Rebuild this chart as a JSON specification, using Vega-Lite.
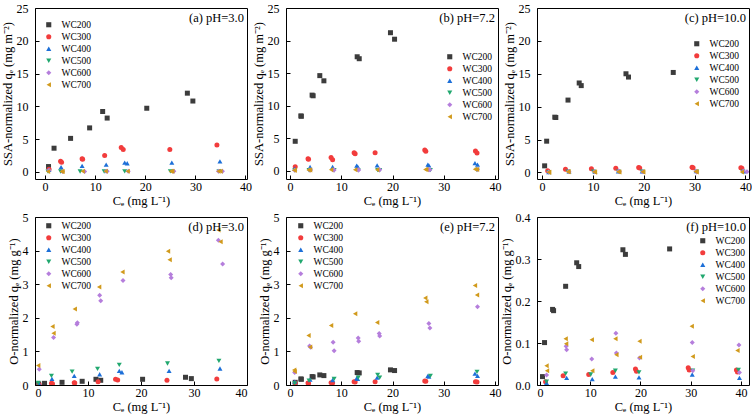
{
"$schema": "https://vega.github.io/schema/vega-lite/v6.json",
"padding": {"left": 0, "top": 1, "right": 0, "bottom": 2},
"background": "white",
"config": {
 "font": "Liberation Serif",
 "view": {"stroke": "black", "strokeWidth": 1},
 "axis": {"grid": false, "domain": false, "tickSize": -4, "tickColor": "black", "labelFont": "Liberation Serif", "labelFontSize": 12, "labelColor": "black", "titleFont": "Liberation Serif", "titleFontSize": 12.5, "titleFontWeight": "normal", "titleColor": "black"},
 "axisX": {"labelPadding": 6, "titlePadding": 2},
 "axisY": {"labelPadding": 11, "titlePadding": 2},
 "legend": {"title": null, "labelFont": "Liberation Serif", "labelFontSize": 9.5, "labelColor": "black", "labelOffset": 8, "rowPadding": 1, "padding": 0, "symbolSize": 26, "symbolStrokeWidth": 0},
 "title": {"font": "Liberation Serif", "fontSize": 12.5, "fontWeight": "normal", "anchor": "end", "frame": "group", "offset": -22, "dx": -3, "color": "black"},
 "point": {"filled": true, "size": 25, "opacity": 1}
},
"datasets": {
 "a": [
  {"sample":"WC200","Ce":0.7,"qe":0.8},{"sample":"WC200","Ce":1.8,"qe":3.6},{"sample":"WC200","Ce":5.1,"qe":5.1},{"sample":"WC200","Ce":8.9,"qe":6.7},{"sample":"WC200","Ce":11.5,"qe":9.2},{"sample":"WC200","Ce":12.4,"qe":8.2},{"sample":"WC200","Ce":20.3,"qe":9.7},{"sample":"WC200","Ce":28.4,"qe":12.0},{"sample":"WC200","Ce":29.5,"qe":10.8},
  {"sample":"WC300","Ce":0.8,"qe":0.4},{"sample":"WC300","Ce":3.1,"qe":1.6},{"sample":"WC300","Ce":3.3,"qe":1.45},{"sample":"WC300","Ce":7.4,"qe":2.0},{"sample":"WC300","Ce":7.5,"qe":1.9},{"sample":"WC300","Ce":11.9,"qe":2.5},{"sample":"WC300","Ce":15.2,"qe":3.7},{"sample":"WC300","Ce":15.6,"qe":3.4},{"sample":"WC300","Ce":24.9,"qe":3.4},{"sample":"WC300","Ce":34.3,"qe":4.1},
  {"sample":"WC400","Ce":0.8,"qe":0.3},{"sample":"WC400","Ce":3.2,"qe":0.7},{"sample":"WC400","Ce":7.4,"qe":0.9},{"sample":"WC400","Ce":12.2,"qe":1.1},{"sample":"WC400","Ce":15.9,"qe":1.4},{"sample":"WC400","Ce":16.4,"qe":1.3},{"sample":"WC400","Ce":25.3,"qe":1.4},{"sample":"WC400","Ce":34.9,"qe":1.6},
  {"sample":"WC500","Ce":0.6,"qe":0.03},{"sample":"WC500","Ce":3.1,"qe":0.05},{"sample":"WC500","Ce":7.0,"qe":0.05},{"sample":"WC500","Ce":11.8,"qe":0.05},{"sample":"WC500","Ce":15.9,"qe":0.06},{"sample":"WC500","Ce":25.0,"qe":0.06},{"sample":"WC500","Ce":34.7,"qe":0.07},
  {"sample":"WC600","Ce":0.8,"qe":0.25},{"sample":"WC600","Ce":3.5,"qe":0.05},{"sample":"WC600","Ce":7.9,"qe":0.06},{"sample":"WC600","Ce":12.2,"qe":0.08},{"sample":"WC600","Ce":12.4,"qe":0.07},{"sample":"WC600","Ce":16.6,"qe":0.09},{"sample":"WC600","Ce":25.6,"qe":0.09},{"sample":"WC600","Ce":25.7,"qe":0.08},{"sample":"WC600","Ce":34.6,"qe":0.1},{"sample":"WC600","Ce":35.4,"qe":0.09},
  {"sample":"WC700","Ce":0.6,"qe":0.05},{"sample":"WC700","Ce":3.3,"qe":0.06},{"sample":"WC700","Ce":3.5,"qe":0.05},{"sample":"WC700","Ce":7.5,"qe":0.07},{"sample":"WC700","Ce":12.1,"qe":0.08},{"sample":"WC700","Ce":16.5,"qe":0.08},{"sample":"WC700","Ce":25.1,"qe":0.09},{"sample":"WC700","Ce":25.4,"qe":0.09},{"sample":"WC700","Ce":34.6,"qe":0.1},{"sample":"WC700","Ce":35.0,"qe":0.1}
 ],
 "b": [
  {"sample":"WC200","Ce":1.0,"qe":4.5},{"sample":"WC200","Ce":2.1,"qe":8.4},{"sample":"WC200","Ce":2.2,"qe":8.35},{"sample":"WC200","Ce":4.3,"qe":11.6},{"sample":"WC200","Ce":4.5,"qe":11.5},{"sample":"WC200","Ce":5.8,"qe":14.6},{"sample":"WC200","Ce":6.6,"qe":13.8},{"sample":"WC200","Ce":13.1,"qe":17.5},{"sample":"WC200","Ce":13.5,"qe":17.2},{"sample":"WC200","Ce":19.6,"qe":21.2},{"sample":"WC200","Ce":20.4,"qe":20.2},
  {"sample":"WC300","Ce":1.0,"qe":0.6},{"sample":"WC300","Ce":3.5,"qe":1.8},{"sample":"WC300","Ce":3.6,"qe":1.75},{"sample":"WC300","Ce":8.0,"qe":2.0},{"sample":"WC300","Ce":8.3,"qe":1.65},{"sample":"WC300","Ce":12.5,"qe":2.75},{"sample":"WC300","Ce":12.7,"qe":2.6},{"sample":"WC300","Ce":16.6,"qe":2.75},{"sample":"WC300","Ce":26.3,"qe":3.15},{"sample":"WC300","Ce":26.5,"qe":2.95},{"sample":"WC300","Ce":36.2,"qe":3.0},{"sample":"WC300","Ce":36.5,"qe":2.7},
  {"sample":"WC400","Ce":0.9,"qe":0.3},{"sample":"WC400","Ce":3.9,"qe":0.55},{"sample":"WC400","Ce":8.3,"qe":0.55},{"sample":"WC400","Ce":13.0,"qe":0.75},{"sample":"WC400","Ce":13.2,"qe":0.6},{"sample":"WC400","Ce":17.0,"qe":0.8},{"sample":"WC400","Ce":26.9,"qe":0.9},{"sample":"WC400","Ce":27.1,"qe":0.8},{"sample":"WC400","Ce":36.1,"qe":1.15},{"sample":"WC400","Ce":36.6,"qe":0.9},
  {"sample":"WC500","Ce":0.9,"qe":0.02},{"sample":"WC500","Ce":3.7,"qe":0.04},{"sample":"WC500","Ce":8.6,"qe":0.05},{"sample":"WC500","Ce":13.3,"qe":0.05},{"sample":"WC500","Ce":17.1,"qe":0.07},{"sample":"WC500","Ce":17.5,"qe":0.05},{"sample":"WC500","Ce":27.4,"qe":0.06},{"sample":"WC500","Ce":36.5,"qe":0.08},
  {"sample":"WC600","Ce":0.9,"qe":0.06},{"sample":"WC600","Ce":3.8,"qe":0.1},{"sample":"WC600","Ce":4.0,"qe":0.09},{"sample":"WC600","Ce":8.4,"qe":0.1},{"sample":"WC600","Ce":8.6,"qe":0.08},{"sample":"WC600","Ce":13.3,"qe":0.11},{"sample":"WC600","Ce":13.4,"qe":0.1},{"sample":"WC600","Ce":17.4,"qe":0.12},{"sample":"WC600","Ce":17.5,"qe":0.11},{"sample":"WC600","Ce":27.1,"qe":0.14},{"sample":"WC600","Ce":27.3,"qe":0.13},{"sample":"WC600","Ce":36.6,"qe":0.18},
  {"sample":"WC700","Ce":0.8,"qe":0.05},{"sample":"WC700","Ce":0.9,"qe":0.04},{"sample":"WC700","Ce":3.6,"qe":0.1},{"sample":"WC700","Ce":3.9,"qe":0.08},{"sample":"WC700","Ce":8.0,"qe":0.12},{"sample":"WC700","Ce":12.7,"qe":0.14},{"sample":"WC700","Ce":17.0,"qe":0.12},{"sample":"WC700","Ce":26.4,"qe":0.17},{"sample":"WC700","Ce":26.6,"qe":0.16},{"sample":"WC700","Ce":36.1,"qe":0.19},{"sample":"WC700","Ce":36.5,"qe":0.17}
 ],
 "c": [
  {"sample":"WC200","Ce":0.5,"qe":1.0},{"sample":"WC200","Ce":0.9,"qe":4.75},{"sample":"WC200","Ce":2.5,"qe":8.4},{"sample":"WC200","Ce":2.7,"qe":8.35},{"sample":"WC200","Ce":5.1,"qe":11.0},{"sample":"WC200","Ce":7.3,"qe":13.6},{"sample":"WC200","Ce":7.7,"qe":13.2},{"sample":"WC200","Ce":16.5,"qe":15.0},{"sample":"WC200","Ce":17.0,"qe":14.5},{"sample":"WC200","Ce":25.8,"qe":15.2},
  {"sample":"WC300","Ce":1.1,"qe":0.25},{"sample":"WC300","Ce":4.6,"qe":0.5},{"sample":"WC300","Ce":9.7,"qe":0.55},{"sample":"WC300","Ce":14.5,"qe":0.65},{"sample":"WC300","Ce":19.0,"qe":0.75},{"sample":"WC300","Ce":19.2,"qe":0.68},{"sample":"WC300","Ce":29.5,"qe":0.8},{"sample":"WC300","Ce":29.7,"qe":0.7},{"sample":"WC300","Ce":39.1,"qe":0.72},{"sample":"WC300","Ce":39.3,"qe":0.65},
  {"sample":"WC400","Ce":1.3,"qe":0.05},{"sample":"WC400","Ce":5.3,"qe":0.15},{"sample":"WC400","Ce":10.4,"qe":0.12},{"sample":"WC400","Ce":15.0,"qe":0.18},{"sample":"WC400","Ce":19.7,"qe":0.15},{"sample":"WC400","Ce":30.3,"qe":0.2},{"sample":"WC400","Ce":39.7,"qe":0.15},
  {"sample":"WC500","Ce":1.3,"qe":0.03},{"sample":"WC500","Ce":5.1,"qe":0.1},{"sample":"WC500","Ce":10.1,"qe":0.1},{"sample":"WC500","Ce":15.0,"qe":0.12},{"sample":"WC500","Ce":19.7,"qe":0.1},{"sample":"WC500","Ce":30.4,"qe":0.12},{"sample":"WC500","Ce":39.5,"qe":0.12},
  {"sample":"WC600","Ce":1.3,"qe":0.05},{"sample":"WC600","Ce":5.2,"qe":0.15},{"sample":"WC600","Ce":5.3,"qe":0.12},{"sample":"WC600","Ce":10.3,"qe":0.1},{"sample":"WC600","Ce":15.1,"qe":0.2},{"sample":"WC600","Ce":15.2,"qe":0.12},{"sample":"WC600","Ce":19.8,"qe":0.1},{"sample":"WC600","Ce":30.3,"qe":0.18},{"sample":"WC600","Ce":30.4,"qe":0.06},{"sample":"WC600","Ce":39.6,"qe":0.2},{"sample":"WC600","Ce":40.3,"qe":0.1},
  {"sample":"WC700","Ce":1.3,"qe":0.04},{"sample":"WC700","Ce":1.4,"qe":0.03},{"sample":"WC700","Ce":5.1,"qe":0.1},{"sample":"WC700","Ce":5.2,"qe":0.09},{"sample":"WC700","Ce":10.3,"qe":0.1},{"sample":"WC700","Ce":10.4,"qe":0.03},{"sample":"WC700","Ce":15.0,"qe":0.1},{"sample":"WC700","Ce":15.2,"qe":0.07},{"sample":"WC700","Ce":19.8,"qe":0.1},{"sample":"WC700","Ce":19.9,"qe":0.06},{"sample":"WC700","Ce":30.2,"qe":0.13},{"sample":"WC700","Ce":30.4,"qe":0.06},{"sample":"WC700","Ce":39.3,"qe":0.08}
 ],
 "d": [
  {"sample":"WC200","Ce":0.7,"qe":0.03},{"sample":"WC200","Ce":1.8,"qe":0.05},{"sample":"WC200","Ce":5.1,"qe":0.08},{"sample":"WC200","Ce":8.9,"qe":0.11},{"sample":"WC200","Ce":11.5,"qe":0.17},{"sample":"WC200","Ce":12.4,"qe":0.14},{"sample":"WC200","Ce":20.3,"qe":0.17},{"sample":"WC200","Ce":28.4,"qe":0.23},{"sample":"WC200","Ce":29.5,"qe":0.19},
  {"sample":"WC300","Ce":0.8,"qe":0.01},{"sample":"WC300","Ce":3.1,"qe":0.05},{"sample":"WC300","Ce":3.3,"qe":0.04},{"sample":"WC300","Ce":7.4,"qe":0.07},{"sample":"WC300","Ce":7.5,"qe":0.06},{"sample":"WC300","Ce":11.9,"qe":0.1},{"sample":"WC300","Ce":15.2,"qe":0.17},{"sample":"WC300","Ce":15.6,"qe":0.15},{"sample":"WC300","Ce":24.9,"qe":0.14},{"sample":"WC300","Ce":34.3,"qe":0.18},
  {"sample":"WC400","Ce":0.8,"qe":0.03},{"sample":"WC400","Ce":3.2,"qe":0.18},{"sample":"WC400","Ce":7.4,"qe":0.27},{"sample":"WC400","Ce":12.2,"qe":0.32},{"sample":"WC400","Ce":15.9,"qe":0.42},{"sample":"WC400","Ce":16.4,"qe":0.38},{"sample":"WC400","Ce":25.3,"qe":0.42},{"sample":"WC400","Ce":34.9,"qe":0.49},
  {"sample":"WC500","Ce":0.6,"qe":0.06},{"sample":"WC500","Ce":3.1,"qe":0.27},{"sample":"WC500","Ce":7.0,"qe":0.4},{"sample":"WC500","Ce":11.8,"qe":0.48},{"sample":"WC500","Ce":15.9,"qe":0.6},{"sample":"WC500","Ce":25.0,"qe":0.64},{"sample":"WC500","Ce":34.7,"qe":0.72},
  {"sample":"WC600","Ce":0.8,"qe":0.47},{"sample":"WC600","Ce":3.5,"qe":1.41},{"sample":"WC600","Ce":7.9,"qe":1.81},{"sample":"WC600","Ce":8.0,"qe":1.85},{"sample":"WC600","Ce":12.2,"qe":2.67},{"sample":"WC600","Ce":12.4,"qe":2.51},{"sample":"WC600","Ce":16.6,"qe":3.11},{"sample":"WC600","Ce":25.6,"qe":3.29},{"sample":"WC600","Ce":25.7,"qe":3.19},{"sample":"WC600","Ce":34.6,"qe":4.31},{"sample":"WC600","Ce":35.4,"qe":3.6},
  {"sample":"WC700","Ce":0.6,"qe":0.58},{"sample":"WC700","Ce":3.3,"qe":1.74},{"sample":"WC700","Ce":3.5,"qe":1.54},{"sample":"WC700","Ce":7.5,"qe":2.26},{"sample":"WC700","Ce":12.1,"qe":2.92},{"sample":"WC700","Ce":16.5,"qe":3.36},{"sample":"WC700","Ce":25.1,"qe":3.98},{"sample":"WC700","Ce":25.4,"qe":3.73},{"sample":"WC700","Ce":34.6,"qe":4.61},{"sample":"WC700","Ce":35.0,"qe":4.26}
 ],
 "e": [
  {"sample":"WC200","Ce":1.0,"qe":0.08},{"sample":"WC200","Ce":2.1,"qe":0.18},{"sample":"WC200","Ce":2.2,"qe":0.17},{"sample":"WC200","Ce":4.3,"qe":0.25},{"sample":"WC200","Ce":4.5,"qe":0.24},{"sample":"WC200","Ce":5.8,"qe":0.3},{"sample":"WC200","Ce":6.6,"qe":0.28},{"sample":"WC200","Ce":13.1,"qe":0.37},{"sample":"WC200","Ce":13.5,"qe":0.36},{"sample":"WC200","Ce":19.6,"qe":0.45},{"sample":"WC200","Ce":20.4,"qe":0.43},
  {"sample":"WC300","Ce":1.0,"qe":0.06},{"sample":"WC300","Ce":3.5,"qe":0.06},{"sample":"WC300","Ce":3.6,"qe":0.05},{"sample":"WC300","Ce":8.0,"qe":0.07},{"sample":"WC300","Ce":8.3,"qe":0.06},{"sample":"WC300","Ce":12.5,"qe":0.1},{"sample":"WC300","Ce":12.7,"qe":0.09},{"sample":"WC300","Ce":16.6,"qe":0.1},{"sample":"WC300","Ce":26.3,"qe":0.12},{"sample":"WC300","Ce":26.5,"qe":0.11},{"sample":"WC300","Ce":36.2,"qe":0.1},{"sample":"WC300","Ce":36.5,"qe":0.09},
  {"sample":"WC400","Ce":0.9,"qe":0.1},{"sample":"WC400","Ce":3.9,"qe":0.16},{"sample":"WC400","Ce":8.3,"qe":0.15},{"sample":"WC400","Ce":13.0,"qe":0.2},{"sample":"WC400","Ce":13.2,"qe":0.18},{"sample":"WC400","Ce":17.0,"qe":0.22},{"sample":"WC400","Ce":26.9,"qe":0.27},{"sample":"WC400","Ce":27.1,"qe":0.25},{"sample":"WC400","Ce":36.1,"qe":0.34},{"sample":"WC400","Ce":36.6,"qe":0.27},
  {"sample":"WC500","Ce":0.9,"qe":0.05},{"sample":"WC500","Ce":3.7,"qe":0.13},{"sample":"WC500","Ce":8.6,"qe":0.18},{"sample":"WC500","Ce":13.3,"qe":0.22},{"sample":"WC500","Ce":17.1,"qe":0.3},{"sample":"WC500","Ce":17.5,"qe":0.22},{"sample":"WC500","Ce":27.4,"qe":0.27},{"sample":"WC500","Ce":36.5,"qe":0.39},
  {"sample":"WC600","Ce":0.9,"qe":0.37},{"sample":"WC600","Ce":3.8,"qe":1.16},{"sample":"WC600","Ce":4.0,"qe":1.12},{"sample":"WC600","Ce":8.4,"qe":1.27},{"sample":"WC600","Ce":8.6,"qe":1.02},{"sample":"WC600","Ce":13.3,"qe":1.4},{"sample":"WC600","Ce":13.4,"qe":1.3},{"sample":"WC600","Ce":17.4,"qe":1.53},{"sample":"WC600","Ce":17.5,"qe":1.46},{"sample":"WC600","Ce":27.1,"qe":1.83},{"sample":"WC600","Ce":27.3,"qe":1.7},{"sample":"WC600","Ce":36.6,"qe":2.33},
  {"sample":"WC700","Ce":0.8,"qe":0.45},{"sample":"WC700","Ce":0.9,"qe":0.4},{"sample":"WC700","Ce":3.6,"qe":1.47},{"sample":"WC700","Ce":3.9,"qe":1.13},{"sample":"WC700","Ce":8.0,"qe":1.77},{"sample":"WC700","Ce":12.7,"qe":2.12},{"sample":"WC700","Ce":17.0,"qe":1.86},{"sample":"WC700","Ce":26.4,"qe":2.59},{"sample":"WC700","Ce":26.6,"qe":2.48},{"sample":"WC700","Ce":36.1,"qe":2.96},{"sample":"WC700","Ce":36.5,"qe":2.68}
 ],
 "f": [
  {"sample":"WC200","Ce":0.5,"qe":0.02},{"sample":"WC200","Ce":0.9,"qe":0.101},{"sample":"WC200","Ce":2.5,"qe":0.18},{"sample":"WC200","Ce":2.7,"qe":0.177},{"sample":"WC200","Ce":5.1,"qe":0.235},{"sample":"WC200","Ce":7.3,"qe":0.291},{"sample":"WC200","Ce":7.7,"qe":0.282},{"sample":"WC200","Ce":16.5,"qe":0.322},{"sample":"WC200","Ce":17.0,"qe":0.311},{"sample":"WC200","Ce":25.8,"qe":0.324},
  {"sample":"WC300","Ce":1.1,"qe":0.008},{"sample":"WC300","Ce":4.6,"qe":0.022},{"sample":"WC300","Ce":9.7,"qe":0.025},{"sample":"WC300","Ce":14.5,"qe":0.03},{"sample":"WC300","Ce":19.0,"qe":0.038},{"sample":"WC300","Ce":19.2,"qe":0.033},{"sample":"WC300","Ce":29.5,"qe":0.041},{"sample":"WC300","Ce":29.7,"qe":0.036},{"sample":"WC300","Ce":39.1,"qe":0.036},{"sample":"WC300","Ce":39.3,"qe":0.031},
  {"sample":"WC400","Ce":1.3,"qe":0.005},{"sample":"WC400","Ce":5.3,"qe":0.017},{"sample":"WC400","Ce":10.4,"qe":0.014},{"sample":"WC400","Ce":15.0,"qe":0.02},{"sample":"WC400","Ce":19.7,"qe":0.018},{"sample":"WC400","Ce":30.3,"qe":0.025},{"sample":"WC400","Ce":39.7,"qe":0.017},
  {"sample":"WC500","Ce":1.3,"qe":0.008},{"sample":"WC500","Ce":5.1,"qe":0.027},{"sample":"WC500","Ce":10.1,"qe":0.025},{"sample":"WC500","Ce":15.0,"qe":0.034},{"sample":"WC500","Ce":19.7,"qe":0.03},{"sample":"WC500","Ce":30.4,"qe":0.034},{"sample":"WC500","Ce":39.5,"qe":0.036},
  {"sample":"WC600","Ce":1.3,"qe":0.024},{"sample":"WC600","Ce":5.2,"qe":0.092},{"sample":"WC600","Ce":5.3,"qe":0.084},{"sample":"WC600","Ce":10.3,"qe":0.062},{"sample":"WC600","Ce":15.1,"qe":0.123},{"sample":"WC600","Ce":15.2,"qe":0.076},{"sample":"WC600","Ce":19.8,"qe":0.064},{"sample":"WC600","Ce":30.3,"qe":0.101},{"sample":"WC600","Ce":30.4,"qe":0.034},{"sample":"WC600","Ce":39.6,"qe":0.095},{"sample":"WC600","Ce":39.7,"qe":0.03},
  {"sample":"WC700","Ce":1.3,"qe":0.046},{"sample":"WC700","Ce":1.4,"qe":0.034},{"sample":"WC700","Ce":5.1,"qe":0.11},{"sample":"WC700","Ce":5.2,"qe":0.098},{"sample":"WC700","Ce":10.3,"qe":0.108},{"sample":"WC700","Ce":10.4,"qe":0.034},{"sample":"WC700","Ce":15.0,"qe":0.11},{"sample":"WC700","Ce":15.2,"qe":0.072},{"sample":"WC700","Ce":19.8,"qe":0.104},{"sample":"WC700","Ce":19.9,"qe":0.066},{"sample":"WC700","Ce":30.2,"qe":0.14},{"sample":"WC700","Ce":30.4,"qe":0.068},{"sample":"WC700","Ce":39.3,"qe":0.082}
 ]
},
"columns": 3,
"bounds": "flush",
"spacing": {"row": 38, "column": 39},
"resolve": {"scale": {"color": "independent", "shape": "independent"}, "legend": {"color": "independent", "shape": "independent"}},
"concat": [
   {
    "width": 212, "height": 171,
    "title": {"text": "(a) pH=3.0"},
    "data": {"name": "a"},
    "mark": {"type": "point", "filled": true, "size": 25, "opacity": 1, "clip": true},
    "encoding": {
     "x": {"field": "Ce", "type": "quantitative", "scale": {"domain": [-2, 40.3], "nice": false, "zero": false}, "axis": {"values": [0, 10, 20, 30, 40], "title": "Cₑ (mg L⁻¹)"}},
     "y": {"field": "qe", "type": "quantitative", "scale": {"domain": [-1.1, 25], "nice": false, "zero": false}, "axis": {"values": [0, 5, 10, 15, 20, 25], "title": "SSA-normalized qₑ (mg m⁻²)"}},
     "color": {"field": "sample", "type": "nominal", "scale": {"domain": ["WC200", "WC300", "WC400", "WC500", "WC600", "WC700"], "range": ["#3c3c3c", "#f23c3c", "#1c6fd8", "#21a86f", "#b57edc", "#d19a1c"]}, "legend": {"orient": "none", "legendX": 9, "legendY": 12}},
     "shape": {"field": "sample", "type": "nominal", "scale": {"domain": ["WC200", "WC300", "WC400", "WC500", "WC600", "WC700"], "range": ["square", "circle", "triangle-up", "triangle-down", "diamond", "triangle-left"]}, "legend": {"orient": "none", "legendX": 9, "legendY": 12}}
    }
   },
   {
    "width": 212, "height": 171,
    "title": {"text": "(b) pH=7.2"},
    "data": {"name": "b"},
    "mark": {"type": "point", "filled": true, "size": 25, "opacity": 1, "clip": true},
    "encoding": {
     "x": {"field": "Ce", "type": "quantitative", "scale": {"domain": [-0.8, 40.6], "nice": false, "zero": false}, "axis": {"values": [0, 10, 20, 30, 40], "title": "Cₑ (mg L⁻¹)"}},
     "y": {"field": "qe", "type": "quantitative", "scale": {"domain": [-1.3, 25], "nice": false, "zero": false}, "axis": {"values": [0, 5, 10, 15, 20, 25], "title": "SSA-normalized qₑ (mg m⁻²)"}},
     "color": {"field": "sample", "type": "nominal", "scale": {"domain": ["WC200", "WC300", "WC400", "WC500", "WC600", "WC700"], "range": ["#3c3c3c", "#f23c3c", "#1c6fd8", "#21a86f", "#b57edc", "#d19a1c"]}, "legend": {"orient": "none", "legendX": 159, "legendY": 44}},
     "shape": {"field": "sample", "type": "nominal", "scale": {"domain": ["WC200", "WC300", "WC400", "WC500", "WC600", "WC700"], "range": ["square", "circle", "triangle-up", "triangle-down", "diamond", "triangle-left"]}, "legend": {"orient": "none", "legendX": 159, "legendY": 44}}
    }
   },
   {
    "width": 212, "height": 171,
    "title": {"text": "(c) pH=10.0"},
    "data": {"name": "c"},
    "mark": {"type": "point", "filled": true, "size": 25, "opacity": 1, "clip": true},
    "encoding": {
     "x": {"field": "Ce", "type": "quantitative", "scale": {"domain": [-1, 40.7], "nice": false, "zero": false}, "axis": {"values": [0, 10, 20, 30, 40], "title": "Cₑ (mg L⁻¹)"}},
     "y": {"field": "qe", "type": "quantitative", "scale": {"domain": [-1, 25], "nice": false, "zero": false}, "axis": {"values": [0, 5, 10, 15, 20, 25], "title": "SSA-normalized qₑ (mg m⁻²)"}},
     "color": {"field": "sample", "type": "nominal", "scale": {"domain": ["WC200", "WC300", "WC400", "WC500", "WC600", "WC700"], "range": ["#3c3c3c", "#f23c3c", "#1c6fd8", "#21a86f", "#b57edc", "#d19a1c"]}, "legend": {"orient": "none", "legendX": 155, "legendY": 31}},
     "shape": {"field": "sample", "type": "nominal", "scale": {"domain": ["WC200", "WC300", "WC400", "WC500", "WC600", "WC700"], "range": ["square", "circle", "triangle-up", "triangle-down", "diamond", "triangle-left"]}, "legend": {"orient": "none", "legendX": 155, "legendY": 31}}
    }
   },
   {
    "width": 212, "height": 168,
    "title": {"text": "(d) pH=3.0"},
    "data": {"name": "d"},
    "mark": {"type": "point", "filled": true, "size": 25, "opacity": 1, "clip": true},
    "encoding": {
     "x": {"field": "Ce", "type": "quantitative", "scale": {"domain": [0, 40], "nice": false, "zero": false}, "axis": {"values": [0, 10, 20, 30, 40], "title": "Cₑ (mg L⁻¹)"}},
     "y": {"field": "qe", "type": "quantitative", "scale": {"domain": [0, 5], "nice": false, "zero": false}, "axis": {"values": [0, 1, 2, 3, 4, 5], "title": "O-normalized qₑ (mg g⁻¹)"}},
     "color": {"field": "sample", "type": "nominal", "scale": {"domain": ["WC200", "WC300", "WC400", "WC500", "WC600", "WC700"], "range": ["#3c3c3c", "#f23c3c", "#1c6fd8", "#21a86f", "#b57edc", "#d19a1c"]}, "legend": {"orient": "none", "legendX": 9, "legendY": 4}},
     "shape": {"field": "sample", "type": "nominal", "scale": {"domain": ["WC200", "WC300", "WC400", "WC500", "WC600", "WC700"], "range": ["square", "circle", "triangle-up", "triangle-down", "diamond", "triangle-left"]}, "legend": {"orient": "none", "legendX": 9, "legendY": 4}}
    }
   },
   {
    "width": 212, "height": 168,
    "title": {"text": "(e) pH=7.2"},
    "data": {"name": "e"},
    "mark": {"type": "point", "filled": true, "size": 25, "opacity": 1, "clip": true},
    "encoding": {
     "x": {"field": "Ce", "type": "quantitative", "scale": {"domain": [-0.8, 40.6], "nice": false, "zero": false}, "axis": {"values": [0, 10, 20, 30, 40], "title": "Cₑ (mg L⁻¹)"}},
     "y": {"field": "qe", "type": "quantitative", "scale": {"domain": [0, 5], "nice": false, "zero": false}, "axis": {"values": [0, 1, 2, 3, 4, 5], "title": "O-normalized qₑ (mg g⁻¹)"}},
     "color": {"field": "sample", "type": "nominal", "scale": {"domain": ["WC200", "WC300", "WC400", "WC500", "WC600", "WC700"], "range": ["#3c3c3c", "#f23c3c", "#1c6fd8", "#21a86f", "#b57edc", "#d19a1c"]}, "legend": {"orient": "none", "legendX": 10, "legendY": 4}},
     "shape": {"field": "sample", "type": "nominal", "scale": {"domain": ["WC200", "WC300", "WC400", "WC500", "WC600", "WC700"], "range": ["square", "circle", "triangle-up", "triangle-down", "diamond", "triangle-left"]}, "legend": {"orient": "none", "legendX": 10, "legendY": 4}}
    }
   },
   {
    "width": 212, "height": 168,
    "title": {"text": "(f) pH=10.0"},
    "data": {"name": "f"},
    "mark": {"type": "point", "filled": true, "size": 25, "opacity": 1, "clip": true},
    "encoding": {
     "x": {"field": "Ce", "type": "quantitative", "scale": {"domain": [-0.6, 41.6], "nice": false, "zero": false}, "axis": {"values": [0, 10, 20, 30, 40], "title": "Cₑ (mg L⁻¹)"}},
     "y": {"field": "qe", "type": "quantitative", "scale": {"domain": [0, 0.4], "nice": false, "zero": false}, "axis": {"values": [0, 0.1, 0.2, 0.3, 0.4], "format": ".1f", "title": "O-normalized qₑ (mg g⁻¹)"}},
     "color": {"field": "sample", "type": "nominal", "scale": {"domain": ["WC200", "WC300", "WC400", "WC500", "WC600", "WC700"], "range": ["#3c3c3c", "#f23c3c", "#1c6fd8", "#21a86f", "#b57edc", "#d19a1c"]}, "legend": {"orient": "none", "legendX": 161, "legendY": 19}},
     "shape": {"field": "sample", "type": "nominal", "scale": {"domain": ["WC200", "WC300", "WC400", "WC500", "WC600", "WC700"], "range": ["square", "circle", "triangle-up", "triangle-down", "diamond", "triangle-left"]}, "legend": {"orient": "none", "legendX": 161, "legendY": 19}}
    }
   }
]
}
